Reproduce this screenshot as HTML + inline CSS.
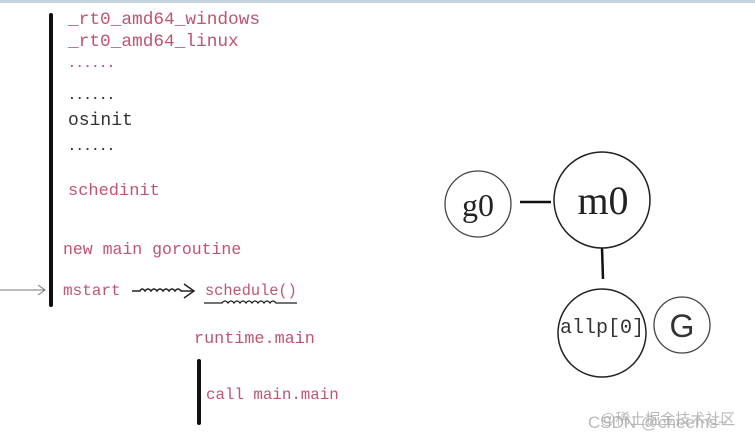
<!DOCTYPE html>
<html><head><meta charset="utf-8"><style>
html,body{margin:0;padding:0;background:#fff;width:755px;height:445px;overflow:hidden;}
svg{display:block}
.r{fill:#c05470;font-family:"Liberation Mono",monospace;}
.k{fill:#333;font-family:"Liberation Mono",monospace;}
</style></head><body>
<svg width="755" height="445" xmlns="http://www.w3.org/2000/svg">
<rect x="0" y="0" width="755" height="3" fill="#c7d3de"/>
<line x1="51" y1="15" x2="51" y2="305" stroke="#111" stroke-width="4" stroke-linecap="round"/>
<text class="r" x="68" y="24" font-size="17.8">_rt0_amd64_windows</text>
<text class="r" x="68" y="46" font-size="17.8">_rt0_amd64_linux</text>
<text class="r" x="68" y="67" font-size="13" font-weight="bold">......</text>
<text class="k" x="68" y="99" font-size="13" font-weight="bold">......</text>
<text class="k" x="68" y="125" font-size="18">osinit</text>
<text class="k" x="68" y="150" font-size="13" font-weight="bold">......</text>
<text class="r" x="68" y="195" font-size="17">schedinit</text>
<text class="r" x="63" y="254" font-size="16.5">new main goroutine</text>
<text class="r" x="63" y="295" font-size="16">mstart</text>
<line x1="0" y1="290" x2="44" y2="290" stroke="#777" stroke-width="1"/>
<polyline points="38,285 45,290 38,295" fill="none" stroke="#777" stroke-width="1"/>
<path d="M132,291 L140,291 Q142,287 145,291 Q148,287 151,291 Q154,287 157,291 Q160,287 163,291 Q166,287 169,291 Q172,287 175,291 Q178,287 181,291 L193,291" fill="none" stroke="#222" stroke-width="1.5"/>
<polyline points="184,284 194,291 184,298" fill="none" stroke="#222" stroke-width="1.5"/>
<text class="r" x="205" y="295" font-size="15.3">schedule()</text>
<path d="M204,303 L222,303 Q225,299 228,303 Q231,299 234,303 Q237,299 240,303 Q243,299 246,303 Q249,299 252,303 Q255,299 258,303 Q261,299 264,303 Q267,299 270,303 Q273,299 276,303 L297,303" fill="none" stroke="#222" stroke-width="1.3"/>
<text class="r" x="194" y="343" font-size="16.8">runtime.main</text>
<line x1="199" y1="361" x2="199" y2="423" stroke="#111" stroke-width="4" stroke-linecap="round"/>
<text class="r" x="206" y="399" font-size="15.8">call main.main</text>
<circle cx="478" cy="204" r="33" fill="none" stroke="#444" stroke-width="1.3"/>
<text x="478" y="216" font-size="32" text-anchor="middle" font-family="Liberation Serif,serif" fill="#222">g0</text>
<line x1="520" y1="202" x2="551" y2="202" stroke="#111" stroke-width="2.5"/>
<circle cx="602" cy="200" r="48" fill="none" stroke="#222" stroke-width="1.5"/>
<text x="603" y="214" font-size="40" text-anchor="middle" font-family="Liberation Serif,serif" fill="#222">m0</text>
<line x1="602" y1="248" x2="603" y2="279" stroke="#111" stroke-width="2.5"/>
<circle cx="602" cy="333" r="44" fill="none" stroke="#222" stroke-width="1.5"/>
<text x="602" y="333" font-size="20" text-anchor="middle" font-family="Liberation Mono,monospace" fill="#333">allp[0]</text>
<circle cx="682" cy="325" r="28" fill="none" stroke="#444" stroke-width="1.3"/>
<text x="682" y="337" font-size="32" text-anchor="middle" font-family="Liberation Sans,sans-serif" fill="#333">G</text>
<text x="588" y="428" font-size="17" font-family="Liberation Sans,'Noto Sans CJK SC',sans-serif" fill="#bbb">CSDN @cheems~</text>
<text x="600" y="424" font-size="15" font-family="Liberation Sans,'Noto Sans CJK SC',sans-serif" fill="#aaa" opacity="0.8">@稀土掘金技术社区</text>
</svg>
</body></html>
